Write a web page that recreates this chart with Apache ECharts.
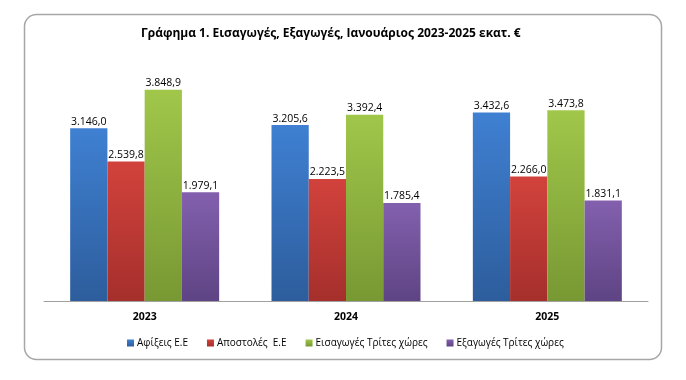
<!DOCTYPE html>
<html><head><meta charset="utf-8">
<script src="https://cdn.jsdelivr.net/npm/echarts@6/dist/echarts.min.js"></script>
<style>html,body{margin:0;padding:0;background:#fff}#c{width:686px;height:380px}</style>
</head><body><div id="c"></div>
<script>
const categories = ['2023', '2024', '2025'];
const seriesNames = ['Αφίξεις Ε.Ε', 'Αποστολές  Ε.Ε', 'Εισαγωγές Τρίτες χώρες', 'Εξαγωγές Τρίτες χώρες'];
const afixeis = [3146.0, 3205.6, 3432.6];
const apostoles = [2539.8, 2223.5, 2266.0];
const eisagoges = [3848.9, 3392.4, 3473.8];
const exagoges = [1979.1, 1785.4, 1831.1];
const titleText = 'Γράφημα 1. Εισαγωγές, Εξαγωγές, Ιανουάριος 2023-2025 εκατ. €';

const colorsTop = ['#3f80d2', '#d2423c', '#a0c74a', '#8360ae'];
const colorsBot = ['#2d5d9c', '#a52f2c', '#789833', '#5e4484'];
const fontFam = '"Open Sans", "Liberation Sans", sans-serif';

function fmt(v) {
  const s = v.toFixed(1).split('.');
  const intPart = s[0].replace(/\B(?=(\d{3})+(?!\d))/g, '.');
  return intPart + ',' + s[1];
}
const data = [afixeis, apostoles, eisagoges, exagoges];
const chart = echarts.init(document.getElementById('c'));
chart.setOption({
  animation: false,
  backgroundColor: '#fff',
  title: {
    text: titleText, left: 136, top: 23,
    textStyle: { fontFamily: fontFam, fontSize: 12, fontWeight: 'bold', color: '#000' }
  },
  graphic: [{
    type: 'rect', shape: { x: 24.5, y: 14.5, width: 637, height: 345, r: 12 },
    style: { fill: 'none', stroke: '#a6a6a6', lineWidth: 1.5 }, z: -1
  }],
  legend: {
    bottom: 27, left: 122, itemWidth: 7, itemHeight: 7, itemGap: 19,
    icon: 'rect',
    textStyle: { fontFamily: fontFam, fontSize: 10, color: '#000', padding: [0, 0, 0, -2] },
    data: seriesNames
  },
  grid: { left: 44, right: 38, top: 54, bottom: 79 },
  xAxis: {
    type: 'category', data: categories,
    axisLine: { lineStyle: { color: '#a0a0a0', width: 1 } },
    axisTick: { show: false },
    axisLabel: { fontFamily: fontFam, fontSize: 10.5, fontWeight: 'bold', color: '#000', margin: 11 }
  },
  yAxis: { type: 'value', min: 0, max: 4500, show: false, splitLine: { show: false } },
  series: seriesNames.map((n, i) => ({
    name: n, type: 'bar', data: data[i],
    barGap: '0%', barCategoryGap: '26%',
    itemStyle: {
      color: new echarts.graphic.LinearGradient(0, 0, 0, 1, [
        { offset: 0, color: colorsTop[i] }, { offset: 1, color: colorsBot[i] }
      ])
    },
    label: {
      show: true, position: 'top', distance: 1,
      fontFamily: fontFam, fontSize: 10.5, color: '#000',
      formatter: p => fmt(p.value)
    }
  }))
});
</script></body></html>
